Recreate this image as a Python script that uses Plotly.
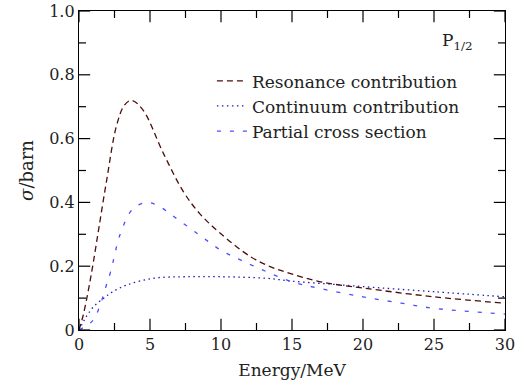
import plotly.graph_objects as go

# Resonance contribution
res_E = [0, 0.3, 0.66, 1.0, 1.4, 1.95, 2.64, 3.2, 3.7, 4.5, 5.95, 7.36, 8.5, 9.95, 12.07, 13.5, 14.9, 17, 19.95, 25, 30]
res_s = [0, 0.047, 0.125, 0.21, 0.32, 0.47, 0.64, 0.705, 0.72, 0.69, 0.553, 0.433, 0.365, 0.303, 0.23, 0.198, 0.177, 0.151, 0.132, 0.104, 0.084]

# Continuum contribution
con_E = [0, 0.37, 0.66, 1.13, 1.72, 2.3, 3.37, 5.2, 7.4, 10, 13.2, 15, 17.95, 20, 25, 30]
con_s = [0, 0.031, 0.052, 0.078, 0.099, 0.118, 0.141, 0.162, 0.167, 0.167, 0.162, 0.153, 0.143, 0.136, 0.12, 0.104]

# Partial cross section
par_E = [0, 1.0, 1.5, 1.88, 2.23, 2.9, 3.8, 4.8, 5.7, 6.7, 8.5, 10, 11.4, 13.2, 15, 17, 20, 22.7, 25, 30]
par_s = [0, 0.031, 0.08, 0.134, 0.183, 0.30, 0.38, 0.40, 0.386, 0.355, 0.297, 0.25, 0.219, 0.183, 0.151, 0.13, 0.104, 0.084, 0.068, 0.05]

x_ticks = [0, 5, 10, 15, 20, 25, 30]
x_minor = [2.5, 7.5, 12.5, 17.5, 22.5, 27.5]
y_ticks = [0, 0.2, 0.4, 0.6, 0.8, 1.0]
y_minor = [0.1, 0.3, 0.5, 0.7, 0.9]
y_tick_labels = ["0", "0.2", "0.4", "0.6", "0.8", "1.0"]
x_range = [0, 30]
y_range = [0, 1.0]

FONT = "DejaVu Serif"
TXT = "#222"

fig = go.Figure()
fig.add_trace(go.Scatter(x=res_E, y=res_s, mode="lines", line_shape="spline",
                         name="Resonance contribution",
                         line=dict(color="#4e0c0c", width=1.3, dash="6px,4px")))
fig.add_trace(go.Scatter(x=con_E, y=con_s, mode="lines", line_shape="spline",
                         name="Continuum contribution",
                         line=dict(color="#1c1cb0", width=1.3, dash="1.5px,3.5px")))
fig.add_trace(go.Scatter(x=par_E, y=par_s, mode="lines", line_shape="spline",
                         name="Partial cross section",
                         line=dict(color="#4d4dff", width=1.3, dash="4px,9px")))


# Inside tick marks on all four sides (markers clipped to the plot area)
def tick_trace(xs, ys, symbol, size):
    return go.Scatter(x=xs, y=ys, mode="markers", showlegend=False, hoverinfo="skip",
                      cliponaxis=True,
                      marker=dict(symbol=symbol, size=size, color="black",
                                  line=dict(color="black", width=1.2)))


for yv in y_range:
    fig.add_trace(tick_trace(x_ticks, [yv] * len(x_ticks), "line-ns", 16))
    fig.add_trace(tick_trace(x_minor, [yv] * len(x_minor), "line-ns", 10))
for xv in x_range:
    fig.add_trace(tick_trace([xv] * len(y_ticks), y_ticks, "line-ew", 16))
    fig.add_trace(tick_trace([xv] * len(y_minor), y_minor, "line-ew", 10))

axis_common = dict(showline=True, linecolor="black", linewidth=1.3, mirror=True,
                   ticks="", showgrid=False, zeroline=False,
                   tickfont=dict(family=FONT, size=16, color=TXT))

fig.update_xaxes(range=x_range, tickmode="array", tickvals=x_ticks,
                 title=dict(text="Energy/MeV", font=dict(family=FONT, size=17, color=TXT), standoff=10),
                 **axis_common)
fig.update_yaxes(range=y_range, tickmode="array", tickvals=y_ticks, ticktext=y_tick_labels,
                 title=dict(text="<i>σ</i>/barn", font=dict(family=FONT, size=18, color=TXT), standoff=10),
                 **axis_common)

fig.add_annotation(x=0.93, y=0.905, xref="paper", yref="paper", xanchor="right", yanchor="middle",
                   text="P<sub>1/2</sub>", showarrow=False,
                   font=dict(family=FONT, size=17, color=TXT))

fig.update_layout(
    template="none",
    width=529, height=390,
    margin=dict(l=79, r=24, t=11, b=60),
    plot_bgcolor="white", paper_bgcolor="white",
    legend=dict(x=0.312, y=0.836, xanchor="left", yanchor="top",
                bgcolor="rgba(0,0,0,0)", borderwidth=0, tracegroupgap=0,
                font=dict(family=FONT, size=17, color=TXT)),
)

fig.write_html("out.html")
